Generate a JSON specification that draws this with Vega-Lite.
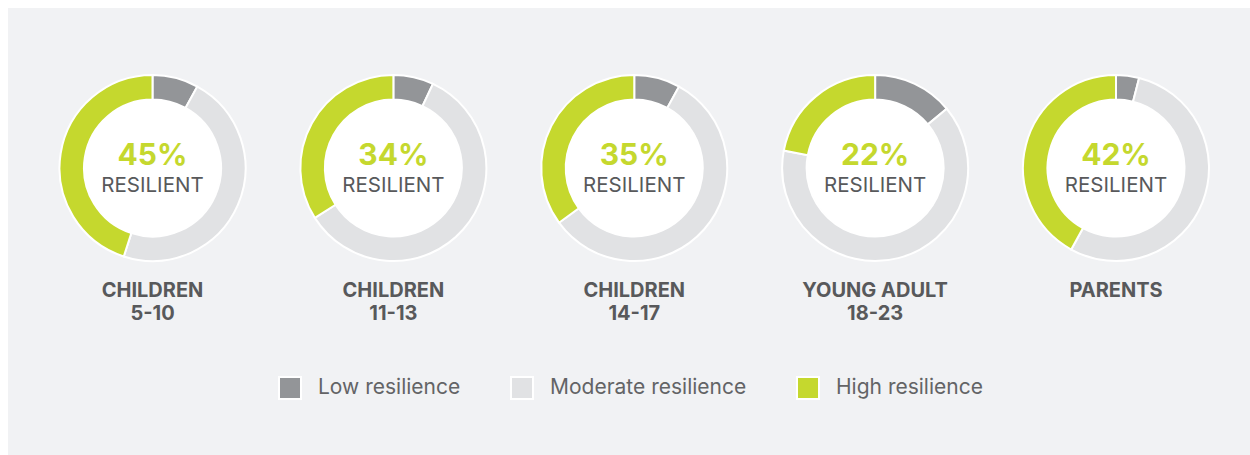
{
  "$schema": "https://vega.github.io/schema/vega-lite/v6.json",
  "width": 1242,
  "height": 447,
  "padding": {"left": 8, "top": 8, "right": 0, "bottom": 0},
  "autosize": {"type": "none"},
  "background": "white",
  "config": {"view": {"fill": "#f1f2f4", "stroke": null}, "font": "Inter"},
  "data": {
    "values": [
      {"group": "g1", "label": "CHILDREN\n5-10", "segment": "Low resilience", "value": 0.08},
      {"group": "g1", "label": "CHILDREN\n5-10", "segment": "Moderate resilience", "value": 0.47},
      {"group": "g1", "label": "CHILDREN\n5-10", "segment": "High resilience", "value": 0.45},
      {"group": "g2", "label": "CHILDREN\n11-13", "segment": "Low resilience", "value": 0.07},
      {"group": "g2", "label": "CHILDREN\n11-13", "segment": "Moderate resilience", "value": 0.59},
      {"group": "g2", "label": "CHILDREN\n11-13", "segment": "High resilience", "value": 0.34},
      {"group": "g3", "label": "CHILDREN\n14-17", "segment": "Low resilience", "value": 0.08},
      {"group": "g3", "label": "CHILDREN\n14-17", "segment": "Moderate resilience", "value": 0.57},
      {"group": "g3", "label": "CHILDREN\n14-17", "segment": "High resilience", "value": 0.35},
      {"group": "g4", "label": "YOUNG ADULT\n18-23", "segment": "Low resilience", "value": 0.14},
      {"group": "g4", "label": "YOUNG ADULT\n18-23", "segment": "Moderate resilience", "value": 0.64},
      {"group": "g4", "label": "YOUNG ADULT\n18-23", "segment": "High resilience", "value": 0.22},
      {"group": "g5", "label": "PARENTS", "segment": "Low resilience", "value": 0.04},
      {"group": "g5", "label": "PARENTS", "segment": "Moderate resilience", "value": 0.54},
      {"group": "g5", "label": "PARENTS", "segment": "High resilience", "value": 0.42}
    ]
  },
  "encoding": {
    "x": {"field": "group", "type": "nominal", "sort": null, "scale": {"type": "point", "range": [144.5, 1108], "padding": 0}, "axis": null}
  },
  "layer": [
    {
      "transform": [{"stack": "value", "groupby": ["group"], "as": ["v0", "v1"]}],
      "mark": {"type": "arc", "radius": 93, "radius2": 68.5, "stroke": "white", "strokeWidth": 2},
      "encoding": {
        "y": {"datum": 35.8, "type": "quantitative", "scale": {"domain": [0, 100], "reverse": true}, "axis": null},
        "theta": {"field": "v0", "type": "quantitative", "scale": {"domain": [0, 1]}},
        "theta2": {"field": "v1"},
        "color": {
          "field": "segment", "type": "nominal",
          "scale": {"domain": ["Low resilience", "Moderate resilience", "High resilience"], "range": ["#939598", "#e1e2e4", "#c5d82e"]},
          "legend": {
            "orient": "none", "legendX": 270, "legendY": 368, "direction": "horizontal", "title": null,
            "symbolType": "square", "symbolSize": 484, "symbolStrokeColor": "white", "symbolStrokeWidth": 2,
            "symbolOpacity": 1, "labelFontSize": 21, "labelColor": "#636466", "labelOffset": 16, "columnPadding": 46, "labelLimit": 400
          }
        }
      }
    },
    {
      "transform": [{"filter": "datum.segment === 'High resilience'"}],
      "mark": {"type": "circle", "size": 18769, "color": "white", "opacity": 1},
      "encoding": {"y": {"datum": 35.8, "type": "quantitative"}}
    },
    {
      "transform": [{"filter": "datum.segment === 'High resilience'"}],
      "mark": {"type": "text", "fontSize": 30, "fontWeight": "bold", "color": "#c5d82e", "baseline": "alphabetic", "dy": -3},
      "encoding": {"y": {"datum": 35.8, "type": "quantitative"}, "text": {"field": "value", "type": "quantitative", "format": ".0%"}}
    },
    {
      "transform": [{"filter": "datum.segment === 'High resilience'"}],
      "mark": {"type": "text", "text": "RESILIENT", "fontSize": 20.5, "color": "#58595b", "baseline": "alphabetic", "dy": 24},
      "encoding": {"y": {"datum": 35.8, "type": "quantitative"}}
    },
    {
      "transform": [{"filter": "datum.segment === 'High resilience'"}],
      "mark": {"type": "text", "fontSize": 20, "fontWeight": "bold", "color": "#58595b", "baseline": "alphabetic", "lineBreak": "\n", "lineHeight": 23},
      "encoding": {"y": {"datum": 64.6, "type": "quantitative"}, "text": {"field": "label"}}
    }
  ]
}
